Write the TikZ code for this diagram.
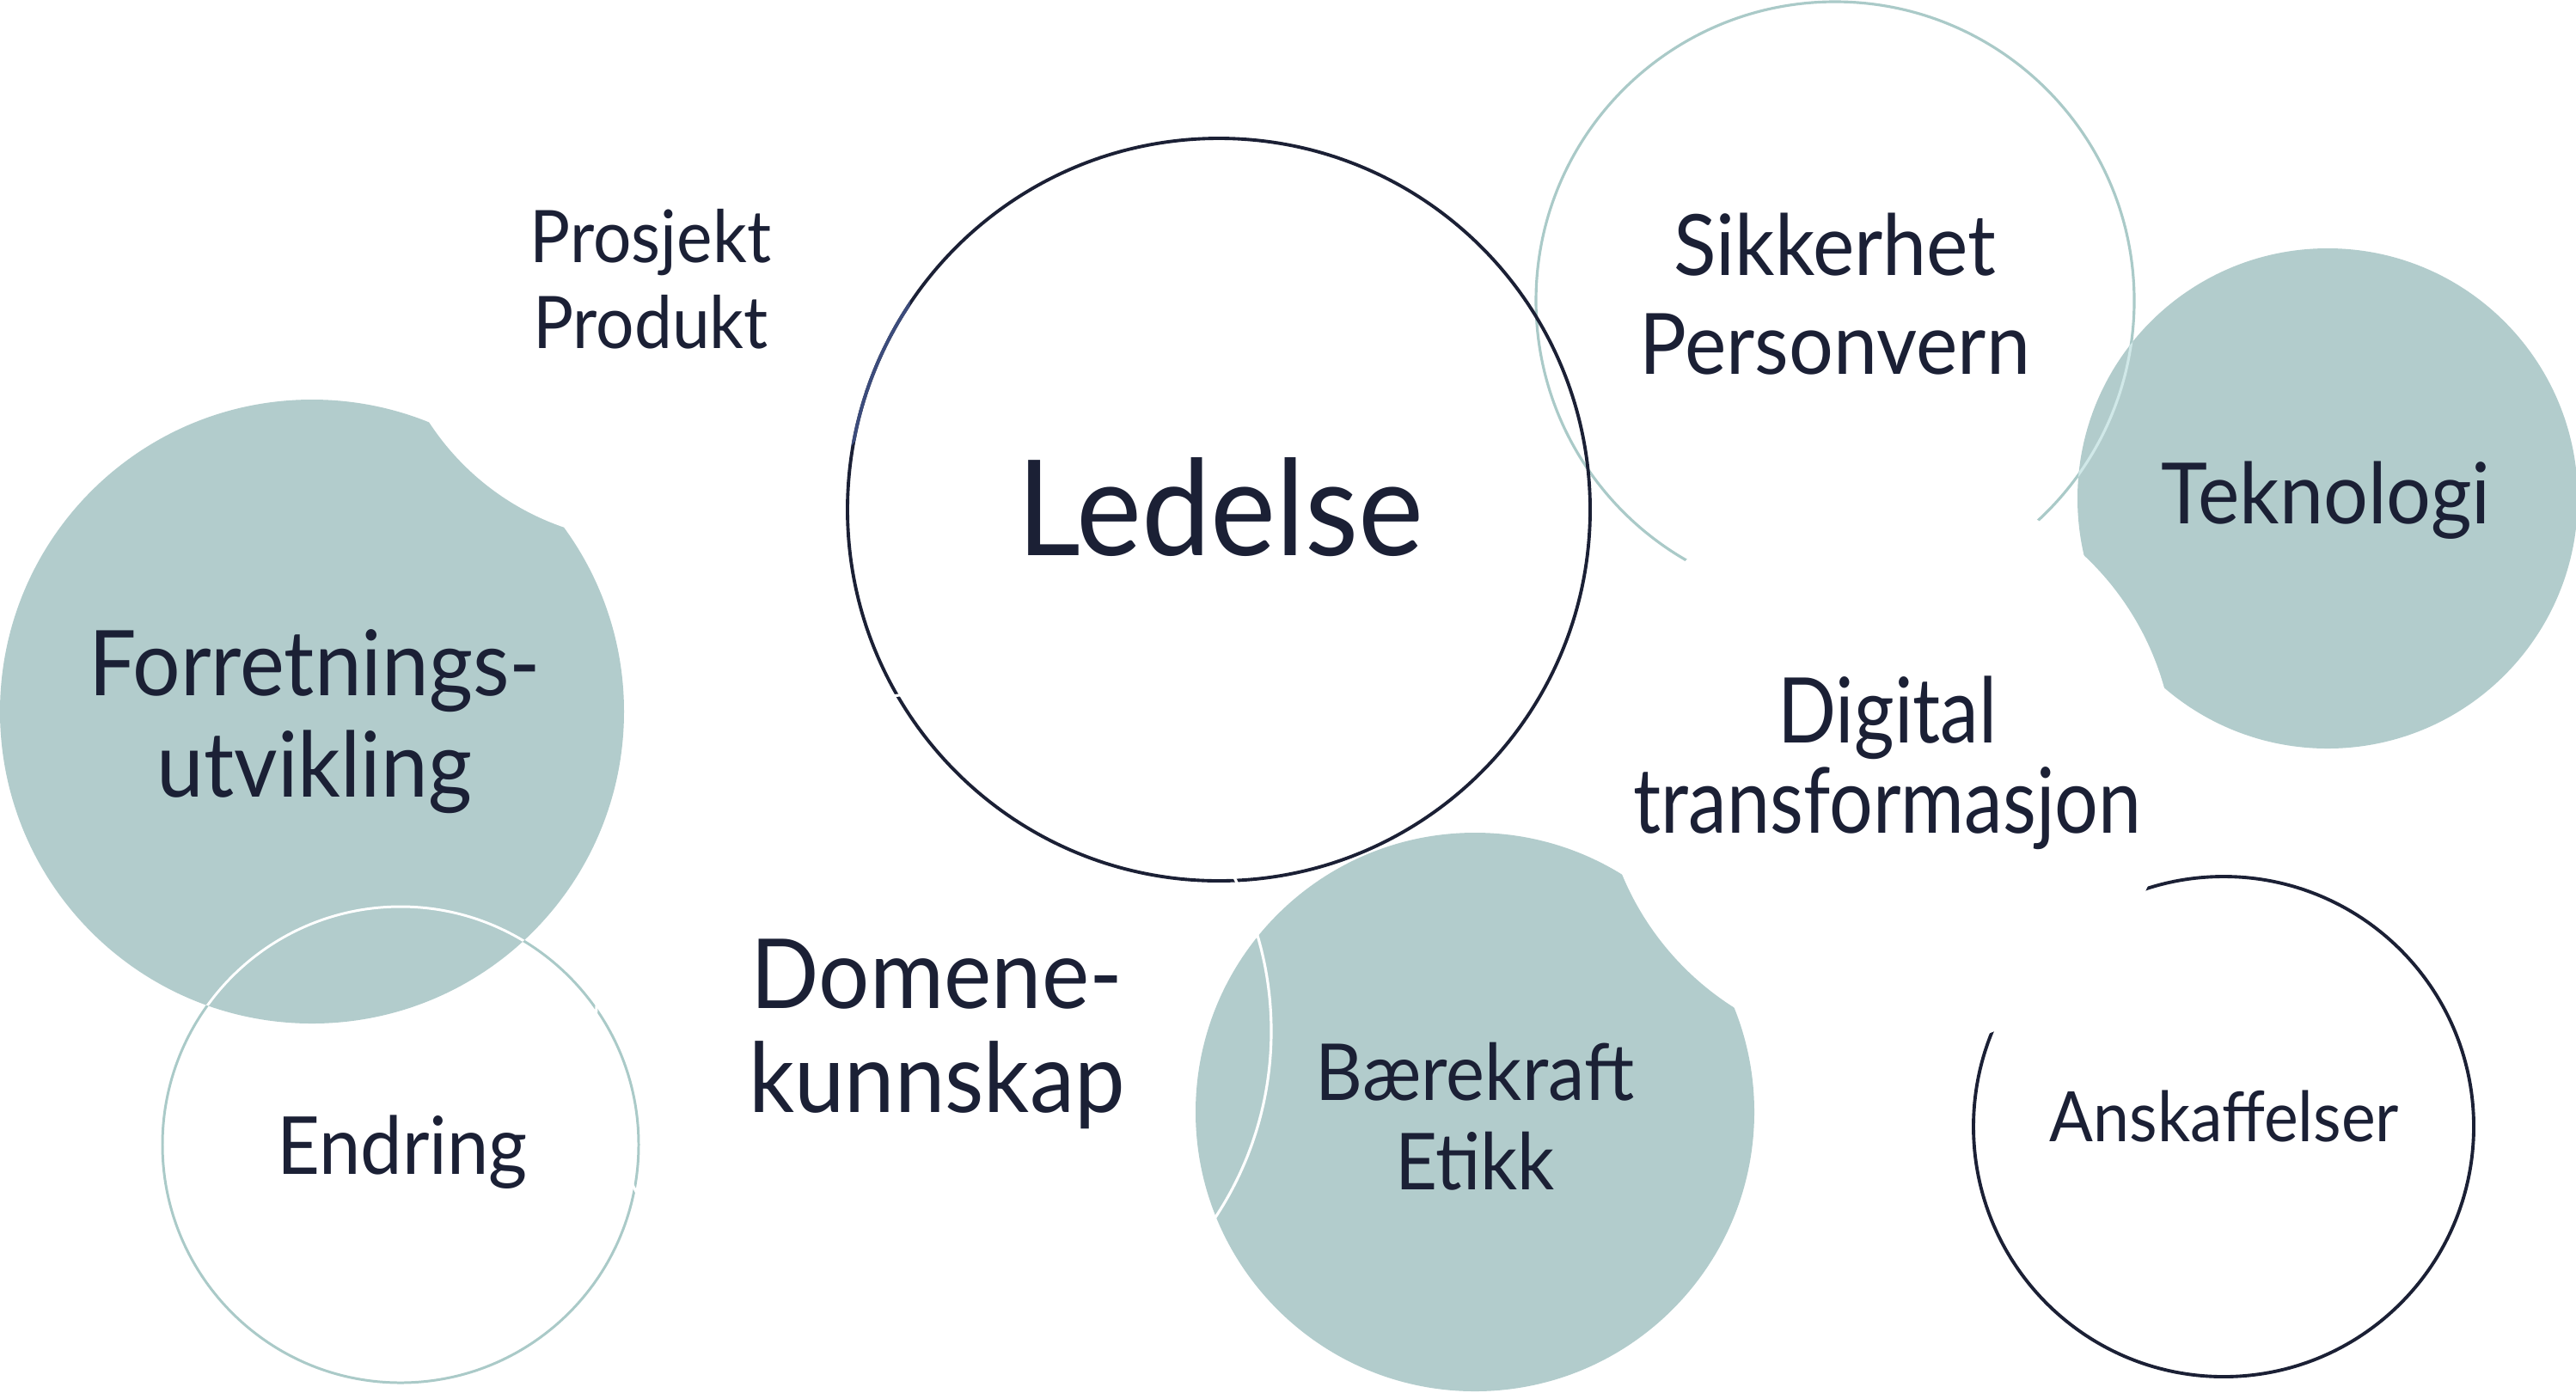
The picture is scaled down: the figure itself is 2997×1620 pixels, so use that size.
\documentclass[tikz,border=0pt]{standalone}
\usepackage{fontspec}
\setmainfont{Lato}[FakeStretch=0.93]
\newfontfamily\narrowfont{Lato}[FakeStretch=0.85]
\definecolor{navy}{RGB}{27,32,53}
\definecolor{tealfill}{RGB}{178,204,204}
\definecolor{tealline}{RGB}{170,202,200}
\definecolor{paleline}{RGB}{208,232,232}
\definecolor{bluish}{RGB}{60,76,124}
\tikzset{
  lbl/.style={anchor=base, inner sep=0pt, text=navy},
  darkring/.style={draw=navy, line width=1.1pt},
  lightring/.style={draw=tealline, line width=0.9pt},
  whitering/.style={draw=white, line width=0.9pt},
}
\newcommand{\fs}[1]{\fontsize{#1}{#1}\selectfont}
\begin{document}
\begin{tikzpicture}[x=0.01cm,y=-0.01cm]
\useasboundingbox (0,0) rectangle (2997,1620);
\fill[white] (0,0) rectangle (2997,1620);

% Forretningsutvikling (filled) with bite from Prosjekt disc
\fill[tealfill] (363,828) circle (363);
\fill[white] (755,325) circle (305);

% Endring ring
\draw[lightring, line width=0.85pt] (466,1332) circle (277);
\begin{scope}
  \clip (363,828) circle (363);
  \draw[whitering, line width=0.85pt] (466,1332) circle (277);
\end{scope}

% Sikkerhet ring
\draw[lightring] (2135,350) circle (348);

% Ledelse ring
\draw[darkring] (1418,593) circle (432);
\begin{scope}
  \clip (755,325) circle (305);
  \draw[draw=bluish, line width=1.1pt] (1418,593) circle (432);
\end{scope}

% Teknologi (filled)
\fill[tealfill] (2708,580) circle (291);
\begin{scope}
  \clip (2708,580) circle (291);
  \draw[draw=paleline, line width=0.9pt] (2135,350) circle (348);
\end{scope}

% Anskaffelser ring
\draw[darkring] (2587,1311) circle (291);

% Baerekraft (filled)
\fill[tealfill] (1716,1294) circle (325);

% Digital transformasjon disc (white) cutting neighbours
\fill[white] (2196,890) circle (334);

% Domenekunnskap ring (white)
\draw[whitering] (1086,1200) circle (393);

% Labels
\node[lbl, font=\fs{24}] (prosjekt) at (757,305) {Prosjekt};
\node[lbl, font=\fs{24}] (produkt) at (757,405) {Produkt};
\node[lbl, font=\fs{44}] (ledelse) at (1420,646) {Ledelse};
\node[lbl, font=\fs{28}] (sikkerhet) at (2135,320) {Sikkerhet};
\node[lbl, font=\fs{28}] (personvern) at (2135,435) {Personvern};
\node[lbl, font=\fs{28}] (teknologi) at (2706,609) {Teknologi};
\node[lbl, font=\fs{30}] (forretnings) at (366,809) {Forretnings-};
\node[lbl, font=\fs{30}] (utvikling) at (366,927) {utvikling};
\node[lbl, font=\narrowfont\fs{30}] (digital) at (2196,864) {Digital};
\node[lbl, font=\narrowfont\fs{30}] (transf) at (2196,969) {transformasjon};
\node[lbl, font=\fs{32}] (domene) at (1090,1173) {Domene-};
\node[lbl, font=\fs{32}] (kunnskap) at (1090,1294) {kunnskap};
\node[lbl, font=\fs{26.5}] (endring) at (468,1366) {Endring};
\node[lbl, font=\fs{26}] (baerekraft) at (1716,1280) {Bærekraft};
\node[lbl, font=\fs{26}] (etikk) at (1716,1384) {Etikk};
\node[lbl, font=\fs{23}] (anskaffelser) at (2588,1328) {Anskaffelser};
\end{tikzpicture}
\end{document}
